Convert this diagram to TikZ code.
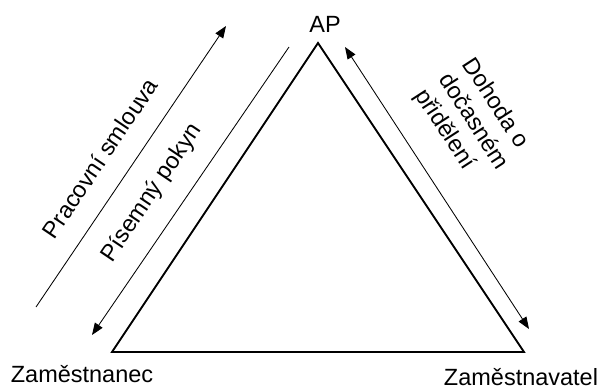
\documentclass[tikz,border=0pt]{standalone}
\usepackage{fontspec}
\setmainfont{Liberation Sans}
\usetikzlibrary{arrows.meta}
\tikzset{
  side/.style={line width=1.3pt, line join=miter},
  relation/.style={line width=0.6pt, -{Triangle[length=8.5pt,width=6.5pt]}},
  mutual/.style={line width=0.6pt, {Triangle[length=8.5pt,width=6.5pt]}-{Triangle[length=8.5pt,width=6.5pt]}},
  party/.style={font=\fontsize{16.7pt}{20pt}\selectfont, inner sep=0pt},
  relname/.style={font=\fontsize{16.7pt}{20pt}\selectfont, inner sep=0pt}
}
\begin{document}
\begin{tikzpicture}[x=0.025cm, y=-0.025cm]
            \useasboundingbox (0,0) rectangle (600,390);
            
            % Corners of the triangle
            \coordinate (ap) at (318,43);%
            \coordinate (zc) at (112,352);%
            \coordinate (zl) at (524,352);%
            
            % Drawing triangle
            \draw [side] (ap) -- (zl) -- (zc) -- cycle;%
            
            % Drawing relation Pracovni smlouva
            \coordinate (ps1) at (36,307);%
            \coordinate (ps2) at (226,26);%
            \draw [relation] (ps1) -- (ps2);%
            
            % Drawing relation Pisemny pokyn
            \coordinate (pp1) at (289,47);%
            \coordinate (pp2) at (92,335);%
            \draw [relation] (pp1) -- (pp2);%
            
            % Drawing relation Dohoda
            \coordinate (dd1) at (345,47);%
            \coordinate (dd2) at (529,329);%
            \draw [mutual] (dd1) -- (dd2);%
            
            % Marking parties
            \node (nap) at (325,24) [party] {AP};%
            \node (nzc) at (82,374) [party] {Zaměstnanec};%
            \node (nzl) at (521,377) [party] {Zaměstnavatel};%
            
            % Marking relations
            \node (tps) at (100,158) [relname, rotate=56] {Pracovní smlouva};%
            \node (tpp) at (152,193) [relname, rotate=56] {Písemný pokyn};%
            \node (tdd) at (473,122) [relname, rotate=-57, align=left] {Dohoda o\\dočasném\\přidělení};%
\end{tikzpicture}
\end{document}
